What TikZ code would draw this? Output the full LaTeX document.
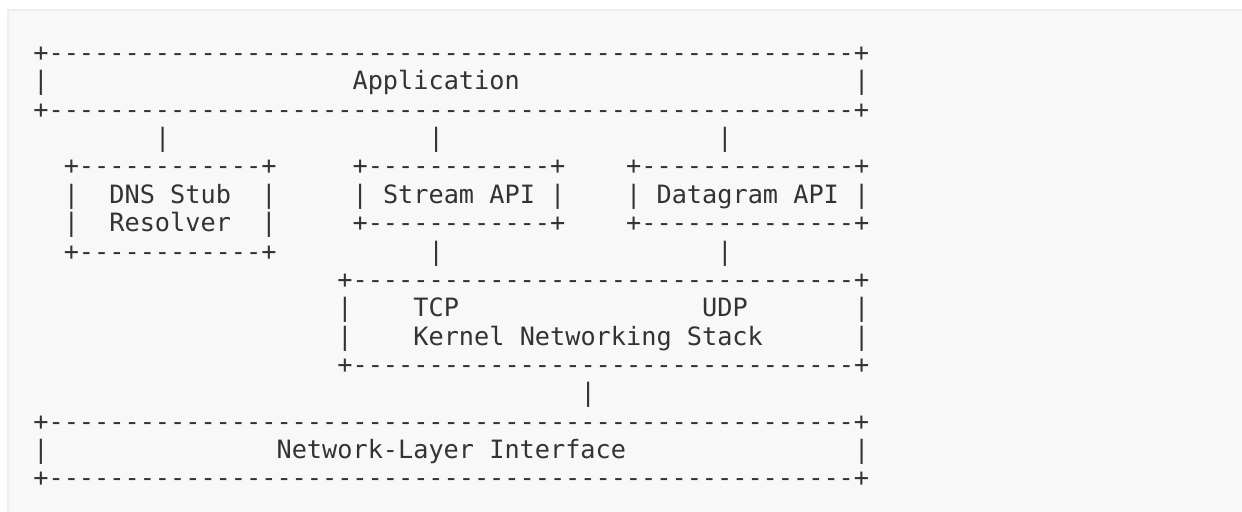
\documentclass[tikz,border=0pt]{standalone}
\usepackage{fontspec}
\setmonofont{DejaVu Sans Mono}
\usepackage{tikz}

\definecolor{panelfill}{HTML}{F8F8F8}
\definecolor{panelrule}{HTML}{EEEEEE}
\definecolor{asciitext}{HTML}{333333}

\newcommand{\dashrun}[1]{\ifnum#1>0 -\expandafter\dashrun\expandafter{\number\numexpr#1-1\relax}\fi}
\newcommand{\edgerun}[1]{+\dashrun{#1}+}

\begin{document}
\begin{tikzpicture}[x=0.5pt,y=-0.5pt,
  ascii/.style={anchor=base west,inner sep=0pt,outer sep=0pt,text=asciitext,
    font=\fontsize{12.62pt}{14pt}\selectfont\ttfamily}]
\useasboundingbox (0,0) rectangle (1242,512);
\fill[white] (0,0) rectangle (1242,512);
\fill[panelfill] (8,10) rectangle (1242,512);
\draw[panelrule,line width=0.75pt] (8,512)--(8,10)--(1242,10);

\begin{scope}[shift={(16.7pt,-30.8pt)},x=7.6pt,y=-14.175pt]
\node[ascii] (appTop) at (0,0) {\edgerun{53}};
\node[ascii] (appL) at (0,1) {|};
\node[ascii] (app) at (21,1) {Application};
\node[ascii] (appR) at (54,1) {|};
\node[ascii] (appBot) at (0,2) {\edgerun{53}};

\node[ascii] (barDns) at (8,3) {|};
\node[ascii] (barStr) at (26,3) {|};
\node[ascii] (barDg) at (45,3) {|};

\node[ascii] (dnsTop) at (2,4) {\edgerun{12}};
\node[ascii] (dnsL1) at (2,5) {|};
\node[ascii] (dns1) at (5,5) {DNS Stub};
\node[ascii] (dnsR1) at (15,5) {|};
\node[ascii] (dnsL2) at (2,6) {|};
\node[ascii] (dns2) at (5,6) {Resolver};
\node[ascii] (dnsR2) at (15,6) {|};
\node[ascii] (dnsBot) at (2,7) {\edgerun{12}};

\node[ascii] (strTop) at (21,4) {\edgerun{12}};
\node[ascii] (strL) at (21,5) {|};
\node[ascii] (str) at (23,5) {Stream API};
\node[ascii] (strR) at (34,5) {|};
\node[ascii] (strBot) at (21,6) {\edgerun{12}};

\node[ascii] (dgTop) at (39,4) {\edgerun{14}};
\node[ascii] (dgL) at (39,5) {|};
\node[ascii] (dg) at (41,5) {Datagram API};
\node[ascii] (dgR) at (54,5) {|};
\node[ascii] (dgBot) at (39,6) {\edgerun{14}};

\node[ascii] (barTcp) at (26,7) {|};
\node[ascii] (barUdp) at (45,7) {|};

\node[ascii] (kernTop) at (20,8) {\edgerun{33}};
\node[ascii] (kernL1) at (20,9) {|};
\node[ascii] (tcp) at (25,9) {TCP};
\node[ascii] (udp) at (44,9) {UDP};
\node[ascii] (kernR1) at (54,9) {|};
\node[ascii] (kernL2) at (20,10) {|};
\node[ascii] (kern) at (25,10) {Kernel Networking Stack};
\node[ascii] (kernR2) at (54,10) {|};
\node[ascii] (kernBot) at (20,11) {\edgerun{33}};

\node[ascii] (barNet) at (36,12) {|};

\node[ascii] (netTop) at (0,13) {\edgerun{53}};
\node[ascii] (netL) at (0,14) {|};
\node[ascii] (net) at (16,14) {Network-Layer Interface};
\node[ascii] (netR) at (54,14) {|};
\node[ascii] (netBot) at (0,15) {\edgerun{53}};
\end{scope}
\end{tikzpicture}
\end{document}
